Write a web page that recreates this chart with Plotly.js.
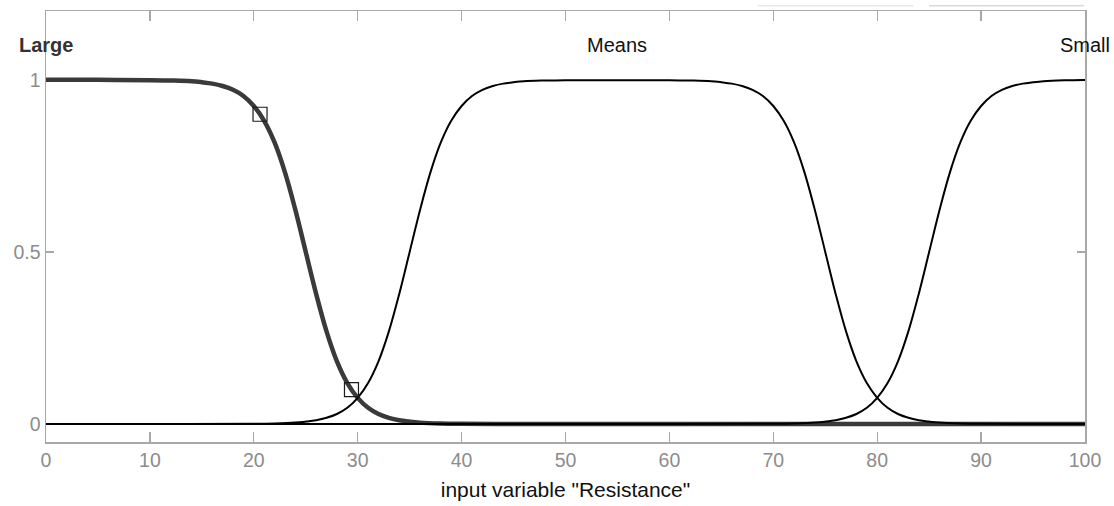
<!DOCTYPE html>
<html>
<head>
<meta charset="utf-8">
<script src="https://cdn.plot.ly/plotly-3.0.1.min.js"></script>
<style>html,body{margin:0;padding:0;background:#fff;}#chart{width:1114px;height:506px;}</style>
</head>
<body>
<div id="chart"></div>
<script>
// x positions and membership values
const largeX = [0, 5, 10, 12, 14, 15, 16, 17, 18, 19, 20, 21, 22, 23, 24, 25, 26, 27, 28, 29, 30, 31, 32, 33, 34, 35, 36, 38, 40, 45, 50, 60, 70, 80, 90, 100];
const largeY = [1, 1, 0.999, 0.998, 0.996, 0.993, 0.989, 0.982, 0.971, 0.953, 0.924, 0.881, 0.818, 0.731, 0.622, 0.5, 0.378, 0.269, 0.182, 0.119, 0.076, 0.047, 0.029, 0.018, 0.011, 0.007, 0.004, 0.0015, 0.0006, 0, 0, 0, 0, 0, 0, 0];

const meansX = [0, 10, 20, 22, 24, 25, 26, 27, 28, 29, 30, 31, 32, 33, 34, 35, 36, 37, 38, 39, 40, 41, 42, 43, 44, 45, 46, 48, 50, 55, 60, 62, 64, 65, 66, 67, 68, 69, 70, 71, 72, 73, 74, 75, 76, 77, 78, 79, 80, 81, 82, 83, 84, 85, 86, 88, 90, 95, 100];
const meansY = [0, 0, 0.0006, 0.0015, 0.004, 0.007, 0.011, 0.018, 0.029, 0.047, 0.076, 0.119, 0.182, 0.269, 0.378, 0.5, 0.622, 0.731, 0.818, 0.881, 0.924, 0.953, 0.971, 0.982, 0.989, 0.993, 0.996, 0.998, 0.999, 0.999, 0.999, 0.998, 0.996, 0.993, 0.989, 0.982, 0.971, 0.953, 0.924, 0.881, 0.818, 0.731, 0.622, 0.5, 0.378, 0.269, 0.182, 0.119, 0.076, 0.047, 0.029, 0.018, 0.011, 0.007, 0.004, 0.0015, 0.0006, 0, 0];

const smallX = [0, 20, 40, 60, 70, 72, 74, 75, 76, 77, 78, 79, 80, 81, 82, 83, 84, 85, 86, 87, 88, 89, 90, 91, 92, 93, 94, 95, 96, 98, 100];
const smallY = [0, 0, 0, 0, 0.0006, 0.0015, 0.004, 0.007, 0.011, 0.018, 0.029, 0.047, 0.076, 0.119, 0.182, 0.269, 0.378, 0.5, 0.622, 0.731, 0.818, 0.881, 0.924, 0.953, 0.971, 0.982, 0.989, 0.993, 0.996, 0.9985, 0.9994];

// selected points on "Large"
const handleX = [20.6, 29.4];
const handleY = [0.9, 0.1];

// membership function names and label positions
const mfNames = ["Large", "Means", "Small"];
const mfLabelX = [0, 55, 100];
const mfLabelY = [1.1, 1.1, 1.1];

const xTicks = [0, 10, 20, 30, 40, 50, 60, 70, 80, 90, 100];
const yTicks = [0, 0.5, 1];
const yTickText = ["0", "0.5", "1"];
const xTitle = 'input variable "Resistance"';

const traces = [
  {x: largeX, y: largeY, mode: "lines", line: {color: "#3a3a3a", width: 4.5, shape: "spline"}, hoverinfo: "skip"},
  {x: meansX, y: meansY, mode: "lines", line: {color: "#000000", width: 2, shape: "spline"}, hoverinfo: "skip"},
  {x: smallX, y: smallY, mode: "lines", line: {color: "#000000", width: 2, shape: "spline"}, hoverinfo: "skip"},
  {x: handleX, y: handleY, mode: "markers", marker: {symbol: "square-open", size: 14, color: "#1a1a1a", line: {width: 1.2}}, hoverinfo: "skip"}
];

const annotations = mfNames.map((n, i) => ({
  x: mfLabelX[i], y: mfLabelY[i], xref: "x", yref: "y", text: i === 0 ? "<b>" + n + "</b>" : n,
  showarrow: false, xanchor: "center", yanchor: "middle",
  font: {family: "Liberation Sans, Arial, sans-serif", size: 20, color: i === 0 ? "#333333" : "#111111"}
}));

const axisLine = "#a8a8a8";
const layout = {
  width: 1114, height: 506,
  margin: {l: 46, r: 29, t: 11, b: 64},
  paper_bgcolor: "#ffffff", plot_bgcolor: "#ffffff",
  showlegend: false,
  font: {family: "Liberation Sans, Arial, sans-serif"},
  xaxis: {
    range: [0, 100], tickvals: xTicks, ticks: "inside", ticklen: 10, tickwidth: 1.3, tickcolor: axisLine,
    showline: true, linecolor: axisLine, linewidth: 1.5, mirror: "ticks", showgrid: false, zeroline: false,
    layer: "below traces",
    tickfont: {size: 19.5, color: "#8c8c8c"},
    title: {text: xTitle, font: {size: 21, color: "#111111"}, standoff: 12}
  },
  yaxis: {
    range: [-0.0523, 1.2], tickvals: yTicks, ticktext: yTickText, ticks: "inside", ticklen: 8, tickwidth: 1.3, tickcolor: axisLine,
    showline: true, linecolor: axisLine, linewidth: 1.5, mirror: "ticks", showgrid: false, zeroline: false,
    layer: "below traces",
    tickfont: {size: 19.5, color: "#8c8c8c"}
  },
  annotations: annotations,
  shapes: [
    {type: "line", xref: "x", yref: "paper", x0: 68.5, x1: 83.5, y0: 1.012, y1: 1.012, line: {color: "#dcdcdc", width: 1}},
    {type: "line", xref: "x", yref: "paper", x0: 85, x1: 99.9, y0: 1.012, y1: 1.012, line: {color: "#c8c8c8", width: 1}}
  ]
};

Plotly.newPlot("chart", traces, layout, {staticPlot: true, displayModeBar: false});
</script>
</body>
</html>
